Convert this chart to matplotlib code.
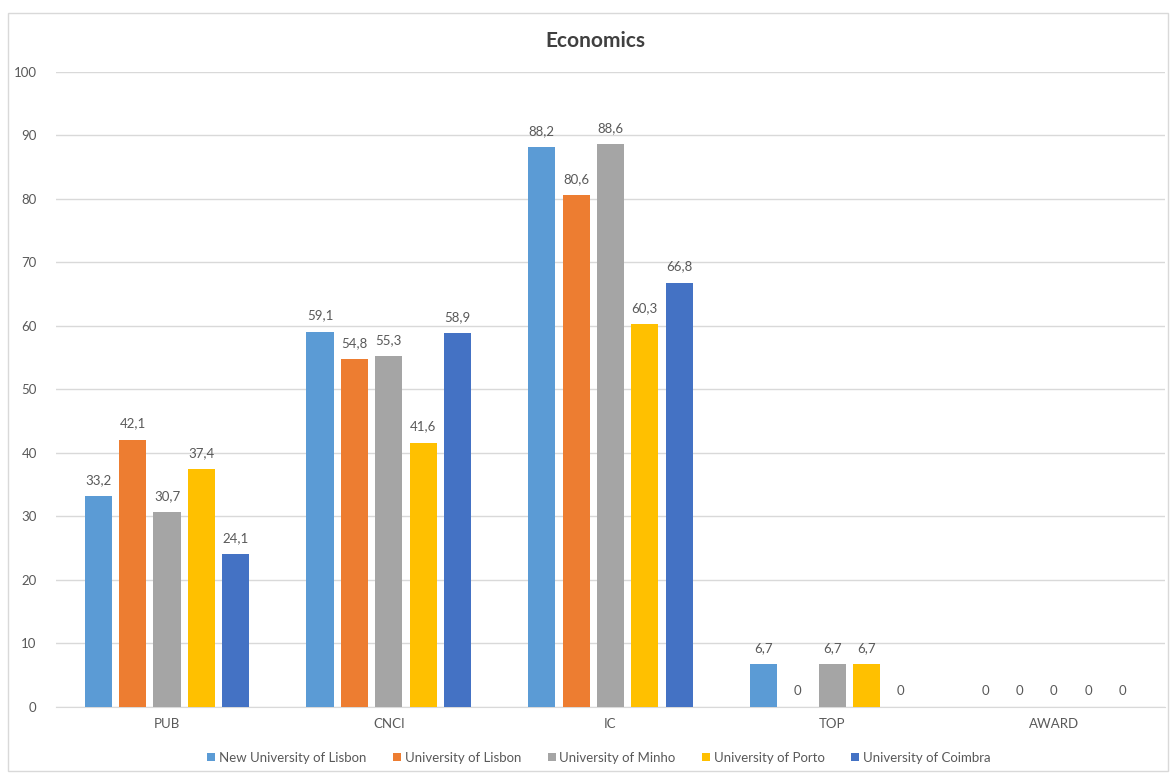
import matplotlib.pyplot as plt
import numpy as np
from matplotlib.patches import Rectangle

plt.rcParams['font.family'] = ['Lato', 'DejaVu Sans']

categories = ['PUB', 'CNCI', 'IC', 'TOP', 'AWARD']
series = ['New University of Lisbon', 'University of Lisbon', 'University of Minho',
          'University of Porto', 'University of Coimbra']
new_lisbon = [33.2, 59.1, 88.2, 6.7, 0]
lisbon = [42.1, 54.8, 80.6, 0, 0]
minho = [30.7, 55.3, 88.6, 6.7, 0]
porto = [37.4, 41.6, 60.3, 6.7, 0]
coimbra = [24.1, 58.9, 66.8, 0, 0]
values = [new_lisbon, lisbon, minho, porto, coimbra]
colors = ['#5B9BD5', '#ED7D31', '#A5A5A5', '#FFC000', '#4472C4']

fig = plt.figure(figsize=(11.7, 7.74), dpi=100)
ax = fig.add_axes([0.048, 0.0866, 0.9475, 0.8204])

x = np.arange(len(categories))
step = 0.155
width = 0.122
for i, (vals, c, name) in enumerate(zip(values, colors, series)):
    pos = x + (i - 2) * step
    bars = ax.bar(pos, vals, width, color=c, label=name, zorder=3)
    for p, v in zip(pos, vals):
        ax.text(p, v + 1.6, ('%g' % v).replace('.', ','), ha='center', va='bottom',
                fontsize=9.5, color='#595959')

ax.set_xlim(-0.5, len(categories) - 0.5)
ax.set_ylim(0, 100)
ax.set_yticks(range(0, 101, 10))
ax.set_xticks(x)
ax.set_xticklabels(categories)
ax.tick_params(axis='both', length=0, labelsize=9.5, colors='#595959')
ax.tick_params(axis='y', pad=14)
ax.tick_params(axis='x', pad=8)
ax.grid(axis='y', color='#D9D9D9', linewidth=1, zorder=0)
for s in ['top', 'right', 'left']:
    ax.spines[s].set_visible(False)
ax.spines['bottom'].set_color('#D9D9D9')

fig.text(0.509, 0.947, 'Economics', ha='center', va='center', fontsize=15,
         fontweight='bold', color='#404040')

leg = fig.legend(loc='center', bbox_to_anchor=(0.512, 0.021), ncol=5, frameon=False,
                 fontsize=9.5, handlelength=0.6, handleheight=0.6, handletextpad=0.3,
                 columnspacing=2.0)
for t in leg.get_texts():
    t.set_color('#595959')

fig.patches.append(Rectangle((0.007, 0.004), 0.991, 0.979, transform=fig.transFigure,
                             fill=False, edgecolor='#D9D9D9', linewidth=1))

fig.savefig('out.png', dpi=100)
